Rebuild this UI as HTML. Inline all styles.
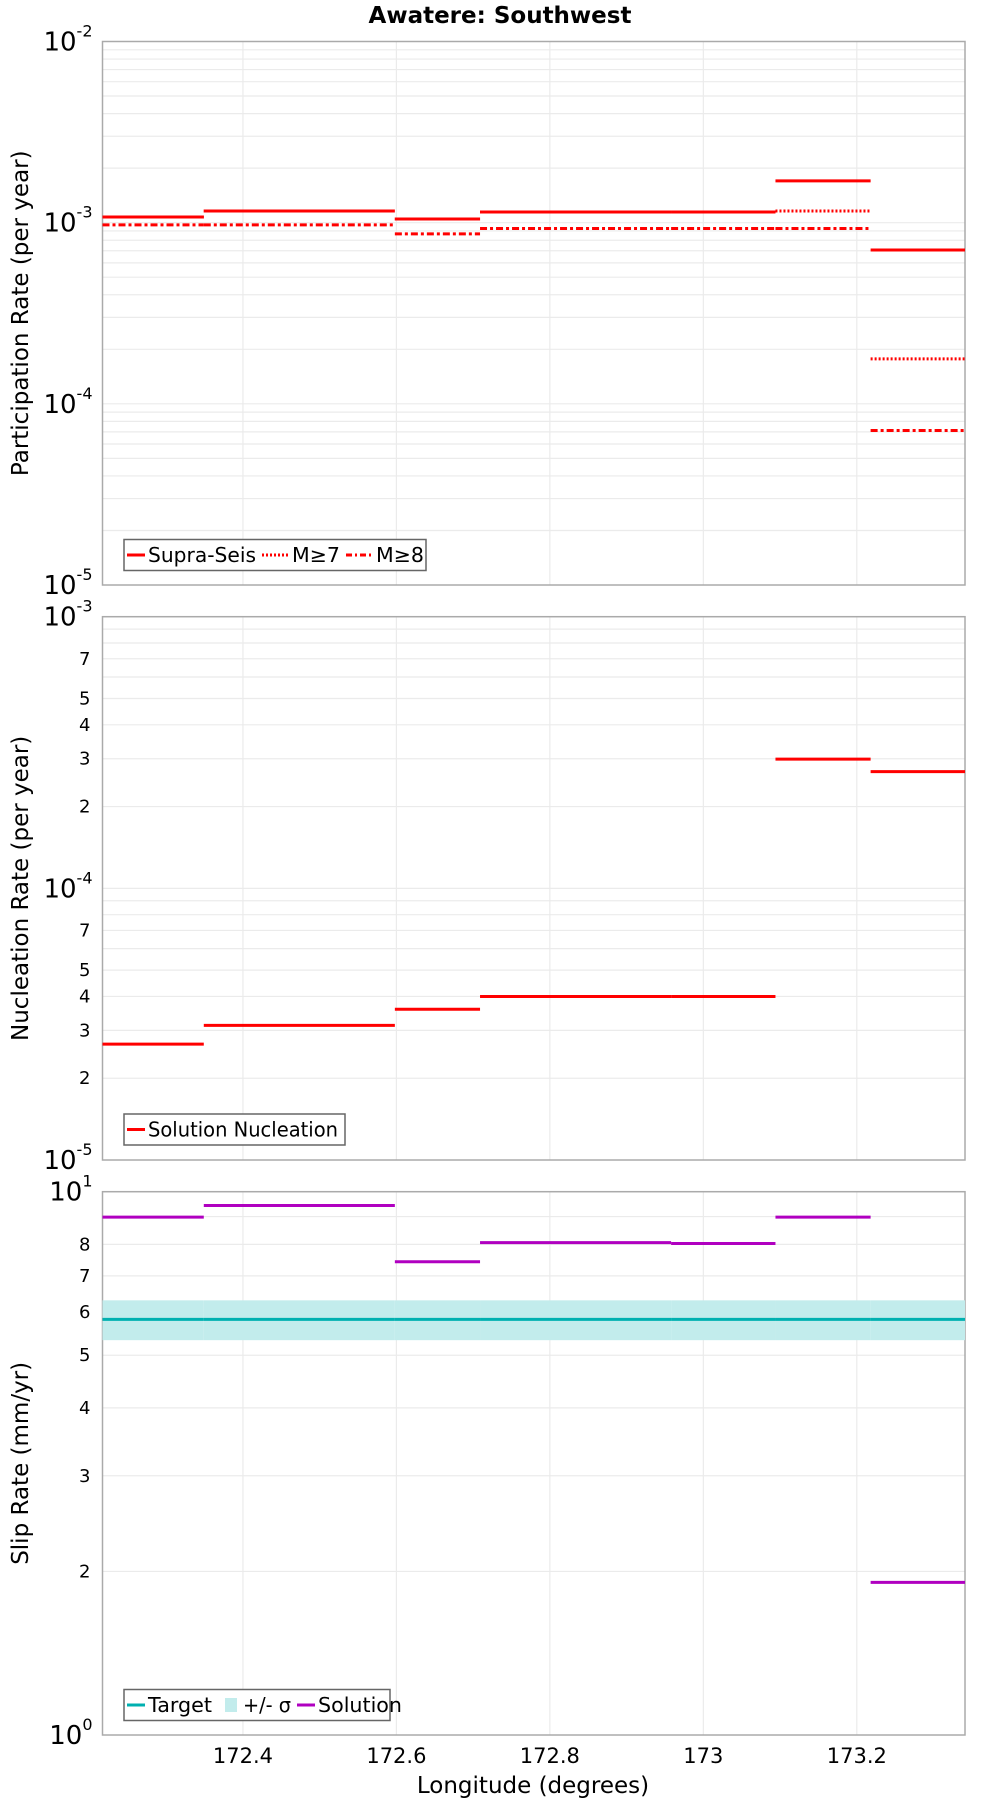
<!DOCTYPE html>
<html><head><meta charset="utf-8">
<style>
html,body{margin:0;padding:0;background:#fff;}
svg{display:block;font-family:"DejaVu Sans","Liberation Sans",sans-serif;}
</style></head>
<body>
<svg id="chart" width="1000" height="1800" viewBox="0 0 1000 1800" xmlns="http://www.w3.org/2000/svg">
<text x="500" y="23" text-anchor="middle" font-size="23" font-weight="bold">Awatere: Southwest</text>
</svg>
<script>
// ---- data ----
const segEdges = [172.217, 172.349, 172.598, 172.709, 172.958, 173.094, 173.218, 173.341];
const xTicks = [172.4, 172.6, 172.8, 173, 173.2];
const xTickLabels = ["172.4", "172.6", "172.8", "173", "173.2"];
const supraSeis = [1.075e-3, 1.16e-3, 1.047e-3, 1.145e-3, 1.145e-3, 1.70e-3, 7.07e-4];
const m7 = [1.075e-3, 1.16e-3, 1.047e-3, 1.145e-3, 1.145e-3, 1.16e-3, 1.77e-4];
const m8 = [9.73e-4, 9.73e-4, 8.67e-4, 9.29e-4, 9.29e-4, 9.29e-4, 7.13e-5];
const nucleation = [2.67e-5, 3.13e-5, 3.59e-5, 4.0e-5, 4.0e-5, 2.99e-4, 2.69e-4];
const slipSolution = [8.98, 9.43, 7.43, 8.06, 8.03, 8.98, 1.91];
const slipTarget = [5.82, 5.82, 5.82, 5.82, 5.82, 5.82, 5.82];
const slipSigmaLow = [5.33, 5.33, 5.33, 5.33, 5.33, 5.33, 5.33];
const slipSigmaHigh = [6.31, 6.31, 6.31, 6.31, 6.31, 6.31, 6.31];

const NS = "http://www.w3.org/2000/svg";
const svg = document.getElementById('chart');
const L = 102.5, R = 965;
const xMin = 172.217, xMax = 173.341;
function xs(v){ return L + (v - xMin) / (xMax - xMin) * (R - L); }
function mk(tag, attrs, parent){
  const e = document.createElementNS(NS, tag);
  for (const k in attrs) e.setAttribute(k, attrs[k]);
  (parent || svg).appendChild(e);
  return e;
}
function logScale(top, bottom, dMin, dMax){
  return v => bottom - (Math.log10(v) - dMin) / (dMax - dMin) * (bottom - top);
}

const panels = [
  {name:'participation', top:41.5, bottom:585, dMin:-5, dMax:-2, minorLabels:[], title:'Participation Rate (per year)'},
  {name:'nucleation', top:616.7, bottom:1160, dMin:-5, dMax:-3, minorLabels:[2,3,4,5,7], title:'Nucleation Rate (per year)'},
  {name:'slip', top:1191.7, bottom:1735, dMin:0, dMax:1, minorLabels:[2,3,4,5,6,7,8], title:'Slip Rate (mm/yr)'}
];

panels.forEach(p => {
  const g = mk('g', {});
  
  
  p.g = g;
  p.y = logScale(p.top, p.bottom, p.dMin, p.dMax);
  for (let d = p.dMin; d < p.dMax; d++) {
    for (let m = 1; m <= 9; m++) {
      const v = m * Math.pow(10, d);
      if (m === 1 && d === p.dMin) continue;
      const yy = p.y(v);
      const ln = mk('line', {x1:L, x2:R, y1:yy, y2:yy, stroke:'#ebebeb', 'stroke-width':1.2}, g);
      
      
    }
  }
  xTicks.forEach(t => {
    const ln = mk('line', {x1:xs(t), x2:xs(t), y1:p.top, y2:p.bottom, stroke:'#ebebeb', 'stroke-width':1.2}, g);
    
    
  });
  const fr = mk('rect', {x:L, y:p.top, width:R-L, height:p.bottom-p.top, fill:'none', stroke:'#aaaaaa', 'stroke-width':1.5}, g);
  
  
  for (let d = p.dMin; d <= p.dMax; d++) {
    const yy = p.y(Math.pow(10, d));
    const t = mk('text', {x:L-10, y:yy+9, 'text-anchor':'end', 'font-size':26}, g);
    
    
    t.appendChild(document.createTextNode('10'));
    const sp = mk('tspan', {dy:-14, 'font-size':16}, t);
    sp.textContent = String(d);
  }
  for (let d = p.dMin; d < p.dMax; d++) {
    p.minorLabels.forEach(m => {
      const yy = p.y(m * Math.pow(10, d));
      const t = mk('text', {x:L-12, y:yy+6, 'text-anchor':'end', 'font-size':18}, g);
      
      
      t.textContent = String(m);
    });
  }
  const cy = (p.top + p.bottom) / 2;
  const tt = mk('text', {x:0, y:0, 'text-anchor':'middle', 'font-size':23, transform:'translate(28,'+cy+') rotate(-90)'}, g);
  
  
  tt.textContent = p.title;
});

function drawSteps(p, vals, color, dash, name){
  vals.forEach((v, i) => {
    const yy = p.y(v);
    const a = {x1:xs(segEdges[i]), x2:xs(segEdges[i+1]), y1:yy, y2:yy, stroke:color, 'stroke-width':3};
    if (dash) a['stroke-dasharray'] = dash;
    const ln = mk('line', a, p.g);
    
    
  });
}

const P1 = panels[0], P2 = panels[1], P3 = panels[2];
slipSigmaLow.forEach((lo, i) => {
  const hi = slipSigmaHigh[i];
  const r = mk('rect', {x:xs(segEdges[i]), width:xs(segEdges[i+1])-xs(segEdges[i]), y:P3.y(hi), height:P3.y(lo)-P3.y(hi), fill:'#c2ecec'}, P3.g);
  
  
});

drawSteps(P1, m8, '#ff0000', '7,3,3,3', 'm8');
drawSteps(P1, m7, '#ff0000', '2,2', 'm7');
drawSteps(P1, supraSeis, '#ff0000', null, 'supra-seis');
drawSteps(P2, nucleation, '#ff0000', null, 'solution-nucleation');
drawSteps(P3, slipTarget, '#00b0b0', null, 'target');
drawSteps(P3, slipSolution, '#b000c0', null, 'solution');

xTicks.forEach((t, i) => {
  const e = mk('text', {x:xs(t), y:1763, 'text-anchor':'middle', 'font-size':21});
  
  
  e.textContent = xTickLabels[i];
});
const xt = mk('text', {x:533, y:1793, 'text-anchor':'middle', 'font-size':23});


xt.textContent = 'Longitude (degrees)';

function legend(x, y, w, items, name){
  const g = mk('g', {});
  
  
  const r = mk('rect', {x:x, y:y, width:w, height:31, fill:'#fff', stroke:'#666', 'stroke-width':1.5}, g);
  
  
  let cx = x + 3;
  items.forEach(it => {
    const yy = y + 15.5;
    if (it.band) {
      const s = mk('rect', {x:cx+7, y:yy-7, width:12, height:14, fill:'#c2ecec'}, g);
      
      
    } else {
      const a = {x1:cx, x2:cx+it.sw, y1:yy, y2:yy, stroke:it.color, 'stroke-width':3};
      if (it.dash) a['stroke-dasharray'] = it.dash;
      const s = mk('line', a, g);
      
      
    }
    const t = mk('text', {x:cx+it.sw+3, y:yy+7, 'font-size':20, textLength:it.tw, lengthAdjust:'spacingAndGlyphs'}, g);
    
    
    t.textContent = it.label;
    cx = cx + it.sw + 3 + it.tw + 6;
  });
}
legend(124, 539.5, 302, [
  {label:'Supra-Seis', color:'#ff0000', sw:18, tw:108},
  {label:'M≥7', color:'#ff0000', dash:'2,2', sw:27, tw:48},
  {label:'M≥8', color:'#ff0000', dash:'6,3,2,3', sw:27, tw:48}
], 'participation-legend');
legend(124, 1114, 221, [
  {label:'Solution Nucleation', color:'#ff0000', sw:18, tw:190}
], 'nucleation-legend');
legend(124, 1689.5, 266, [
  {label:'Target', color:'#00b0b0', sw:18, tw:64},
  {label:'+/- σ', band:true, sw:22, tw:48},
  {label:'Solution', color:'#b000c0', sw:18, tw:84}
], 'slip-legend');
</script>
</body></html>
